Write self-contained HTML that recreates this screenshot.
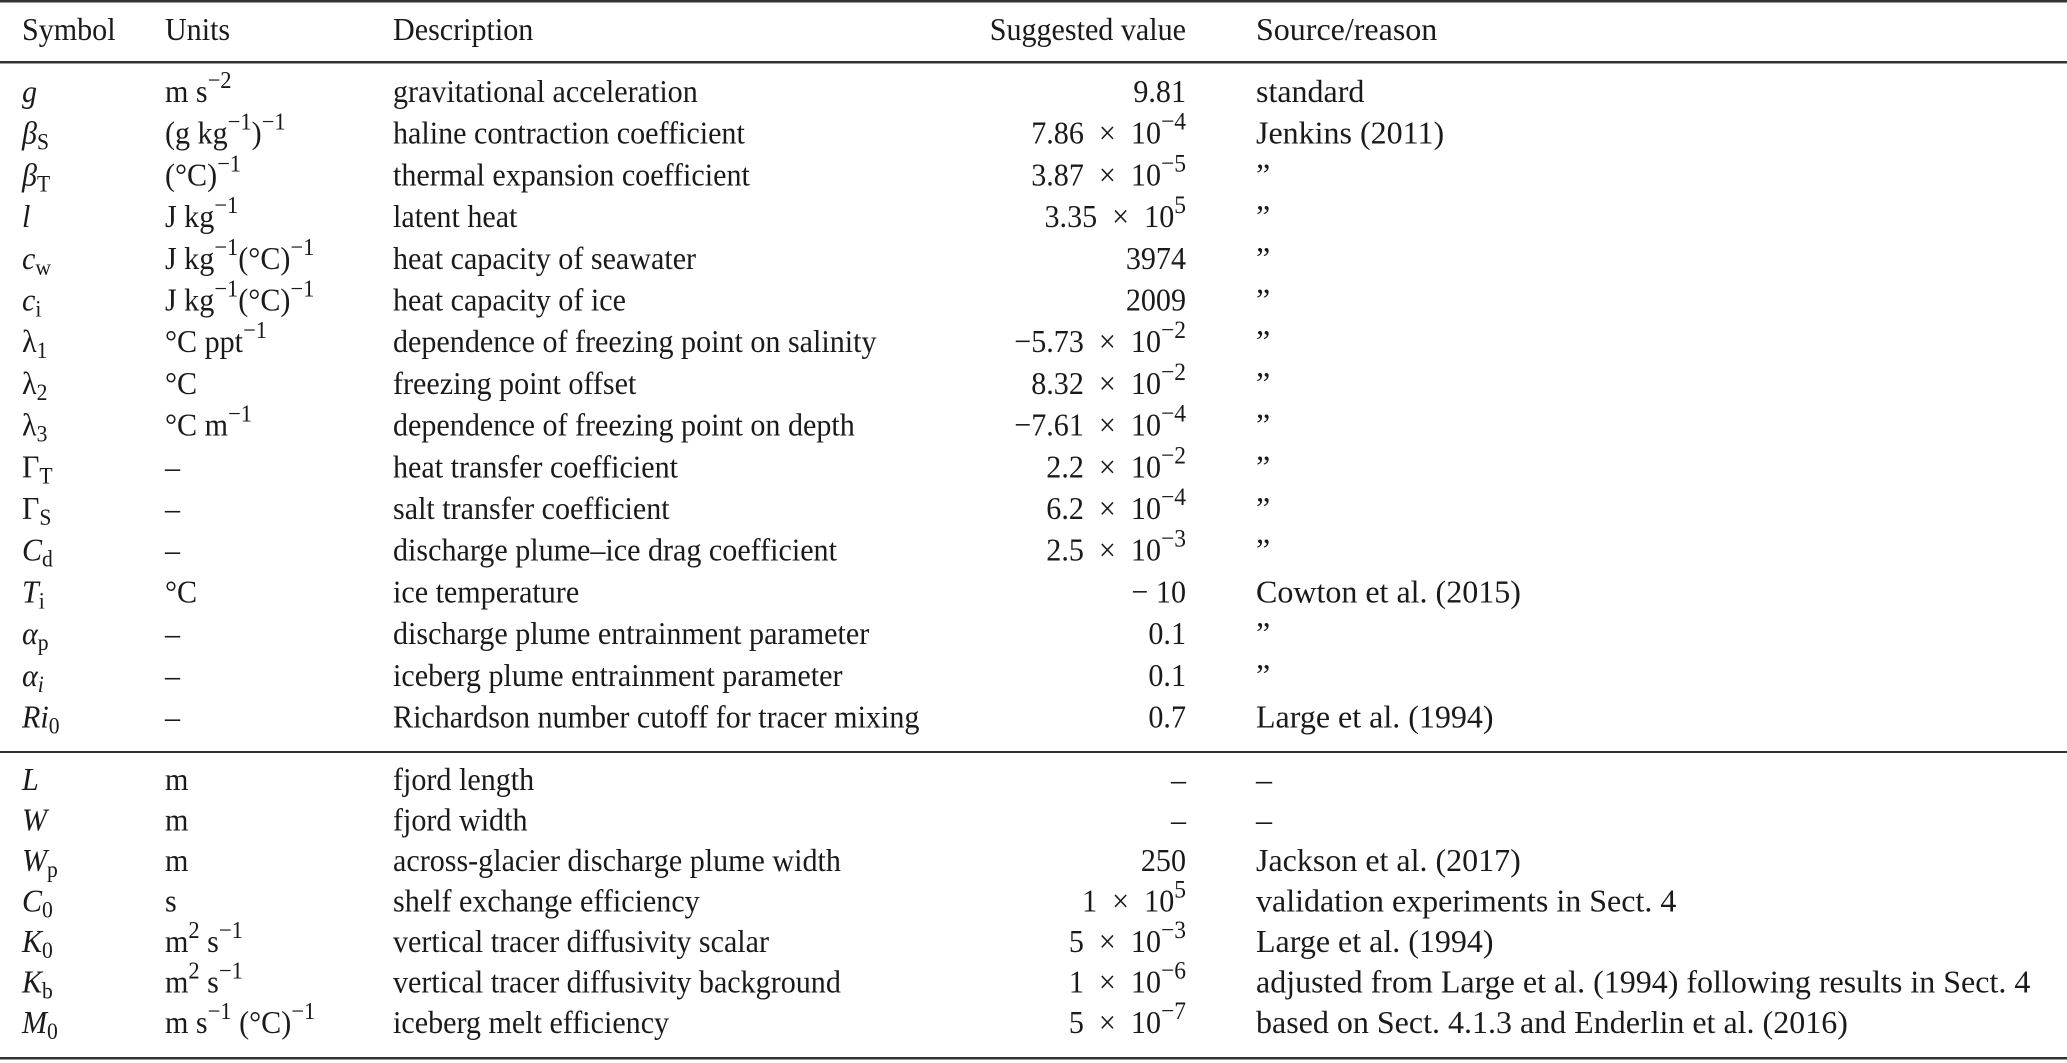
<!DOCTYPE html>
<html><head><meta charset="utf-8"><style>
html,body{margin:0;padding:0;background:#fff;}
svg{display:block;}
text{font-family:"Liberation Serif","Times New Roman",serif;font-size:32px;fill:#1a1a1a;}
</style></head><body>
<svg width="2067" height="1063" viewBox="0 0 2067 1063" xmlns="http://www.w3.org/2000/svg">
<rect x="0" y="0" width="2067" height="1063" fill="#fff"/>
<rect x="0" y="0" width="2067" height="2.5" fill="#333"/>
<rect x="0" y="61" width="2067" height="2.5" fill="#333"/>
<rect x="0" y="751" width="2067" height="2" fill="#333"/>
<rect x="0" y="1057" width="2067" height="2.5" fill="#333"/>
<g transform="scale(0.94,1)">
<text x="23.4" y="40">Symbol</text>
<text x="175.5" y="40">Units</text>
<text x="418.1" y="40">Description</text>
<text x="1261.7" y="40" text-anchor="end">Suggested value</text>

<text x="23.4" y="102" font-style="italic">g</text>
<text x="175.5" y="102">m s<tspan dy="-14" font-size="24">−2</tspan></text>
<text x="418.1" y="102">gravitational acceleration</text>
<text x="1261.7" y="102" text-anchor="end">9.81</text>

<text x="23.4" y="143.7"><tspan font-style="italic">β</tspan><tspan dy="6" font-size="23">S</tspan></text>
<text x="175.5" y="143.7">(g kg<tspan dy="-14" font-size="24">−1</tspan><tspan dy="14">)</tspan><tspan dy="-14" font-size="24">−1</tspan></text>
<text x="418.1" y="143.7">haline contraction coefficient</text>
<text x="1261.7" y="143.7" text-anchor="end">7.86 <tspan dx="8">×</tspan> <tspan dx="8">10</tspan><tspan dy="-14" font-size="25">−4</tspan></text>

<text x="23.4" y="185.4"><tspan font-style="italic">β</tspan><tspan dy="6" font-size="23">T</tspan></text>
<text x="175.5" y="185.4">(°C)<tspan dy="-14" font-size="24">−1</tspan></text>
<text x="418.1" y="185.4">thermal expansion coefficient</text>
<text x="1261.7" y="185.4" text-anchor="end">3.87 <tspan dx="8">×</tspan> <tspan dx="8">10</tspan><tspan dy="-14" font-size="25">−5</tspan></text>

<text x="23.4" y="227.1" font-style="italic">l</text>
<text x="175.5" y="227.1">J kg<tspan dy="-14" font-size="24">−1</tspan></text>
<text x="418.1" y="227.1">latent heat</text>
<text x="1261.7" y="227.1" text-anchor="end">3.35 <tspan dx="8">×</tspan> <tspan dx="8">10</tspan><tspan dy="-14" font-size="25">5</tspan></text>

<text x="23.4" y="268.8"><tspan font-style="italic">c</tspan><tspan dy="6" font-size="23">w</tspan></text>
<text x="175.5" y="268.8">J kg<tspan dy="-14" font-size="24">−1</tspan><tspan dy="14">(°C)</tspan><tspan dy="-14" font-size="24">−1</tspan></text>
<text x="418.1" y="268.8">heat capacity of seawater</text>
<text x="1261.7" y="268.8" text-anchor="end">3974</text>

<text x="23.4" y="310.5"><tspan font-style="italic">c</tspan><tspan dy="6" font-size="23">i</tspan></text>
<text x="175.5" y="310.5">J kg<tspan dy="-14" font-size="24">−1</tspan><tspan dy="14">(°C)</tspan><tspan dy="-14" font-size="24">−1</tspan></text>
<text x="418.1" y="310.5">heat capacity of ice</text>
<text x="1261.7" y="310.5" text-anchor="end">2009</text>

<text x="23.4" y="352.2">λ<tspan dy="6" font-size="23">1</tspan></text>
<text x="175.5" y="352.2">°C ppt<tspan dy="-14" font-size="24">−1</tspan></text>
<text x="418.1" y="352.2">dependence of freezing point on salinity</text>
<text x="1261.7" y="352.2" text-anchor="end">−5.73 <tspan dx="8">×</tspan> <tspan dx="8">10</tspan><tspan dy="-14" font-size="25">−2</tspan></text>

<text x="23.4" y="393.9">λ<tspan dy="6" font-size="23">2</tspan></text>
<text x="175.5" y="393.9">°C</text>
<text x="418.1" y="393.9">freezing point offset</text>
<text x="1261.7" y="393.9" text-anchor="end">8.32 <tspan dx="8">×</tspan> <tspan dx="8">10</tspan><tspan dy="-14" font-size="25">−2</tspan></text>

<text x="23.4" y="435.6">λ<tspan dy="6" font-size="23">3</tspan></text>
<text x="175.5" y="435.6">°C m<tspan dy="-14" font-size="24">−1</tspan></text>
<text x="418.1" y="435.6">dependence of freezing point on depth</text>
<text x="1261.7" y="435.6" text-anchor="end">−7.61 <tspan dx="8">×</tspan> <tspan dx="8">10</tspan><tspan dy="-14" font-size="25">−4</tspan></text>

<text x="23.4" y="477.3">Γ<tspan dy="6" font-size="23">T</tspan></text>
<text x="175.5" y="477.3">–</text>
<text x="418.1" y="477.3">heat transfer coefficient</text>
<text x="1261.7" y="477.3" text-anchor="end">2.2 <tspan dx="8">×</tspan> <tspan dx="8">10</tspan><tspan dy="-14" font-size="25">−2</tspan></text>

<text x="23.4" y="519">Γ<tspan dy="6" font-size="23">S</tspan></text>
<text x="175.5" y="519">–</text>
<text x="418.1" y="519">salt transfer coefficient</text>
<text x="1261.7" y="519" text-anchor="end">6.2 <tspan dx="8">×</tspan> <tspan dx="8">10</tspan><tspan dy="-14" font-size="25">−4</tspan></text>

<text x="23.4" y="560.7"><tspan font-style="italic">C</tspan><tspan dy="6" font-size="23">d</tspan></text>
<text x="175.5" y="560.7">–</text>
<text x="418.1" y="560.7">discharge plume–ice drag coefficient</text>
<text x="1261.7" y="560.7" text-anchor="end">2.5 <tspan dx="8">×</tspan> <tspan dx="8">10</tspan><tspan dy="-14" font-size="25">−3</tspan></text>

<text x="23.4" y="602.4"><tspan font-style="italic">T</tspan><tspan dy="6" font-size="23">i</tspan></text>
<text x="175.5" y="602.4">°C</text>
<text x="418.1" y="602.4">ice temperature</text>
<text x="1261.7" y="602.4" text-anchor="end">−<tspan dx="8">10</tspan></text>

<text x="23.4" y="644.1"><tspan font-style="italic">α</tspan><tspan dy="6" font-size="23">p</tspan></text>
<text x="175.5" y="644.1">–</text>
<text x="418.1" y="644.1">discharge plume entrainment parameter</text>
<text x="1261.7" y="644.1" text-anchor="end">0.1</text>

<text x="23.4" y="685.8"><tspan font-style="italic">α</tspan><tspan dy="6" font-size="23" font-style="italic">i</tspan></text>
<text x="175.5" y="685.8">–</text>
<text x="418.1" y="685.8">iceberg plume entrainment parameter</text>
<text x="1261.7" y="685.8" text-anchor="end">0.1</text>

<text x="23.4" y="727.5"><tspan font-style="italic">Ri</tspan><tspan dy="6" font-size="23">0</tspan></text>
<text x="175.5" y="727.5">–</text>
<text x="418.1" y="727.5">Richardson number cutoff for tracer mixing</text>
<text x="1261.7" y="727.5" text-anchor="end">0.7</text>

<text x="23.4" y="790" font-style="italic">L</text>
<text x="175.5" y="790">m</text>
<text x="418.1" y="790">fjord length</text>
<text x="1261.7" y="790" text-anchor="end">–</text>

<text x="23.4" y="830.5" font-style="italic">W</text>
<text x="175.5" y="830.5">m</text>
<text x="418.1" y="830.5">fjord width</text>
<text x="1261.7" y="830.5" text-anchor="end">–</text>

<text x="23.4" y="871"><tspan font-style="italic">W</tspan><tspan dy="6" font-size="23">p</tspan></text>
<text x="175.5" y="871">m</text>
<text x="418.1" y="871">across-glacier discharge plume width</text>
<text x="1261.7" y="871" text-anchor="end">250</text>

<text x="23.4" y="911.5"><tspan font-style="italic">C</tspan><tspan dy="6" font-size="23">0</tspan></text>
<text x="175.5" y="911.5">s</text>
<text x="418.1" y="911.5">shelf exchange efficiency</text>
<text x="1261.7" y="911.5" text-anchor="end">1 <tspan dx="8">×</tspan> <tspan dx="8">10</tspan><tspan dy="-14" font-size="25">5</tspan></text>

<text x="23.4" y="952"><tspan font-style="italic">K</tspan><tspan dy="6" font-size="23">0</tspan></text>
<text x="175.5" y="952">m<tspan dy="-14" font-size="24">2</tspan><tspan dy="14"> s</tspan><tspan dy="-14" font-size="24">−1</tspan></text>
<text x="418.1" y="952">vertical tracer diffusivity scalar</text>
<text x="1261.7" y="952" text-anchor="end">5 <tspan dx="8">×</tspan> <tspan dx="8">10</tspan><tspan dy="-14" font-size="25">−3</tspan></text>

<text x="23.4" y="992.5"><tspan font-style="italic">K</tspan><tspan dy="6" font-size="23">b</tspan></text>
<text x="175.5" y="992.5">m<tspan dy="-14" font-size="24">2</tspan><tspan dy="14"> s</tspan><tspan dy="-14" font-size="24">−1</tspan></text>
<text x="418.1" y="992.5">vertical tracer diffusivity background</text>
<text x="1261.7" y="992.5" text-anchor="end">1 <tspan dx="8">×</tspan> <tspan dx="8">10</tspan><tspan dy="-14" font-size="25">−6</tspan></text>

<text x="23.4" y="1033"><tspan font-style="italic">M</tspan><tspan dy="6" font-size="23">0</tspan></text>
<text x="175.5" y="1033">m s<tspan dy="-14" font-size="24">−1</tspan><tspan dy="14"> (°C)</tspan><tspan dy="-14" font-size="24">−1</tspan></text>
<text x="418.1" y="1033">iceberg melt efficiency</text>
<text x="1261.7" y="1033" text-anchor="end">5 <tspan dx="8">×</tspan> <tspan dx="8">10</tspan><tspan dy="-14" font-size="25">−7</tspan></text>
</g>
<g>
<text x="1256" y="40">Source/reason</text>
<text x="1256" y="102">standard</text>
<text x="1256" y="143.7">Jenkins (2011)</text>
<text x="1256" y="185.4">”</text>
<text x="1256" y="227.1">”</text>
<text x="1256" y="268.8">”</text>
<text x="1256" y="310.5">”</text>
<text x="1256" y="352.2">”</text>
<text x="1256" y="393.9">”</text>
<text x="1256" y="435.6">”</text>
<text x="1256" y="477.3">”</text>
<text x="1256" y="519">”</text>
<text x="1256" y="560.7">”</text>
<text x="1256" y="602.4">Cowton et al. (2015)</text>
<text x="1256" y="644.1">”</text>
<text x="1256" y="685.8">”</text>
<text x="1256" y="727.5">Large et al. (1994)</text>
<text x="1256" y="790">–</text>
<text x="1256" y="830.5">–</text>
<text x="1256" y="871">Jackson et al. (2017)</text>
<text x="1256" y="911.5">validation experiments in Sect. 4</text>
<text x="1256" y="952">Large et al. (1994)</text>
<text x="1256" y="992.5">adjusted from Large et al. (1994) following results in Sect. 4</text>
<text x="1256" y="1033">based on Sect. 4.1.3 and Enderlin et al. (2016)</text>
</g>
</svg>
</body></html>
